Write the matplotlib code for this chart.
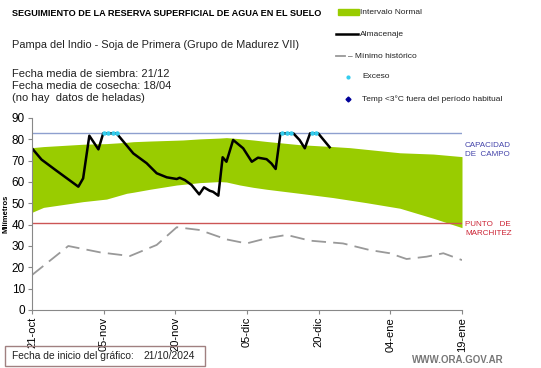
import matplotlib.pyplot as plt
import numpy as np
from matplotlib.patches import Rectangle

plt.rcParams['font.family'] = ['Liberation Sans', 'DejaVu Sans']

# days since 21-oct-2024
band_days = [0, 2.4, 10.7, 15.6, 19.8, 21.2, 24.7, 30.3, 31.6, 35.1, 39.3, 40.7, 43.5,
             46.3, 49.1, 56, 63, 66.5, 70, 77, 84, 90]
band_hi = [76.1, 76.6, 77.7, 78.0, 78.6, 78.9, 79.2, 79.6, 79.7, 80.2, 80.6, 80.8, 80.3,
           79.7, 79.0, 77.5, 76.6, 76.1, 75.3, 73.7, 73.1, 71.9]
band_lo = [45.8, 48.1, 50.8, 52.0, 54.7, 55.2, 56.6, 58.6, 58.9, 59.7, 60.2, 60.0, 58.6,
           57.5, 56.6, 54.7, 52.7, 51.5, 50.3, 47.7, 43.0, 38.6]

alm_days = [0, 2, 5, 9.7, 10.7, 12, 13.9, 14.9, 17.7, 21.2, 24, 26.1, 28.2, 30.3, 30.9,
            32, 33.4, 35, 36, 37.2, 37.9, 39, 39.9, 40.7, 42.1, 44.2, 46, 47.3, 49.1,
            50.1, 51, 52, 54.7, 56, 57.1, 58.2, 59.9, 62.3]
alm_vals = [75.8, 70.5, 65.5, 57.8, 61.7, 81.7, 75.3, 82.8, 82.8, 73.4, 68.8, 64.1, 62.2,
            61.4, 62.0, 60.9, 58.6, 54.2, 57.5, 55.9, 55.4, 53.6, 71.6, 69.5, 79.7, 75.8,
            69.5, 71.4, 70.7, 68.7, 66.1, 82.8, 82.8, 79.7, 75.8, 82.8, 82.8, 76.3]

min_days = [0, 7.6, 14.3, 20.5, 26.1, 30.3, 35.1, 40.7, 44.9, 49.1, 53.3, 58.2, 65.1,
            70.7, 74.9, 78.4, 82.6, 86.1, 90]
min_vals = [16.4, 30.0, 27.0, 25.3, 30.5, 38.8, 37.5, 33.1, 31.2, 33.6, 35.2, 32.5, 31.2,
            28.1, 26.6, 23.9, 25.0, 26.6, 23.4]

exc_days = [15, 16, 17, 17.7, 52.3, 53.3, 54.3, 58.5, 59.5]
exc_vals = [82.8] * len(exc_days)

cap_campo = 82.8
punto_marchitez = 41.0

tick_days = [0, 15, 30, 45, 60, 75, 90]
tick_labels = ['21-oct', '05-nov', '20-nov', '05-dic', '20-dic', '04-ene', '19-ene']

fig = plt.figure(figsize=(5.41, 3.68), dpi=100)
ax = fig.add_axes([32/541, 58/368, 430/541, 192/368])

ax.fill_between(band_days, band_lo, band_hi, color='#99cc00', lw=0)
ax.axhline(cap_campo, color='#8e9fcf', lw=1)
ax.axhline(punto_marchitez, color='#cc5555', lw=1)
ax.plot(min_days, min_vals, color='#999999', lw=1.3, dashes=(8, 4))
ax.plot(alm_days, alm_vals, color='black', lw=1.8)
ax.scatter(exc_days, exc_vals, s=5, color='#33ccee', zorder=5)

ax.set_xlim(0, 90)
ax.set_ylim(0, 90)
ax.set_yticks(range(0, 91, 10))
ax.set_xticks(tick_days)
ax.set_xticklabels(tick_labels, rotation=90, fontsize=8)
ax.tick_params(axis='y', labelsize=8.5, length=3, color='#888888', pad=2)
ax.tick_params(axis='x', length=3, color='#888888', pad=2)
for s in ['top', 'right']:
    ax.spines[s].set_visible(False)
ax.spines['left'].set_color('#888888')
ax.spines['bottom'].set_color('#888888')
ax.set_ylabel('Milímetros', fontsize=5.5, fontweight='bold', labelpad=2)

fig.text(465/541, 1 - 150/368, 'CAPACIDAD\nDE  CAMPO', color='#4444aa', fontsize=5.8,
         va='center', linespacing=1.4)
fig.text(465/541, 1 - 229/368, 'PUNTO   DE\nMARCHITEZ', color='#cc2233', fontsize=5.8,
         va='center', linespacing=1.4)

fig.text(12/541, 1 - 14/368, 'SEGUIMIENTO DE LA RESERVA SUPERFICIAL DE AGUA EN EL SUELO',
         fontsize=6.6, fontweight='bold', va='center')
fig.text(12/541, 1 - 45/368, 'Pampa del Indio - Soja de Primera (Grupo de Madurez VII)',
         fontsize=7.9, va='center', color='#222222')
fig.text(12/541, 1 - 86/368,
         'Fecha media de siembra: 21/12\nFecha media de cosecha: 18/04\n(no hay  datos de heladas)',
         fontsize=8.0, va='center', linespacing=1.2, color='#222222')

# legend
fig.patches.append(Rectangle((338/541, 1 - 15/368), 21/541, 6/368, color='#99cc00',
                             transform=fig.transFigure, figure=fig))
fig.add_artist(plt.Line2D([336/541, 358/541], [1 - 34/368] * 2, color='black', lw=1.8))
fig.add_artist(plt.Line2D([336/541, 345/541], [1 - 56/368] * 2, color='#999999', lw=1.3))
fig.add_artist(plt.Line2D([348/541], [1 - 77/368], marker='o', ms=2, color='#33ccee'))
fig.add_artist(plt.Line2D([348/541], [1 - 99/368], marker='D', ms=2.5, color='#000099'))
leg_txt = [(12, 'Intervalo Normal', 360), (34, 'Almacenaje', 360),
           (56, '– Mínimo histórico', 348), (77, 'Exceso', 362),
           (99, 'Temp <3°C fuera del período habitual', 362)]
for yy, t, xx in leg_txt:
    fig.text(xx/541, 1 - yy/368, t, fontsize=6.0, va='center', color='#222222')

fig.patches.append(Rectangle((5/541, 2/368), 200/541, 20/368, fill=False,
                             edgecolor='#a08080', lw=1, transform=fig.transFigure, figure=fig))
fig.text(12/541, 1 - 356/368, 'Fecha de inicio del gráfico:', fontsize=7.4,
         va='center', color='#222222')
fig.text(143/541, 1 - 356/368, '21/10/2024', fontsize=7.4, va='center', color='#222222')
fig.text(412/541, 1 - 360/368, 'WWW.ORA.GOV.AR', fontsize=7, fontweight='bold',
         color='#777777', va='center')

fig.savefig('out.png', dpi=100)
